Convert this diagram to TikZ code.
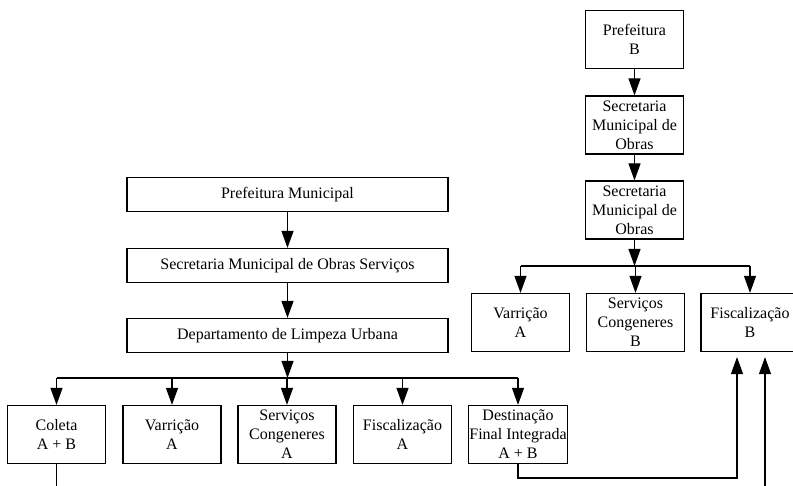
\documentclass[tikz,border=0pt]{standalone}
\usepackage{fontspec}
\setmainfont{Liberation Serif}
\usetikzlibrary{arrows.meta}

\begin{document}
\begin{tikzpicture}[x=1pt,y=-1pt,
		every node/.style={font=\fontsize{16}{19}\selectfont,align=center,inner sep=0.5pt},
		caixa/.style={draw,line width=1.2pt,minimum width=98pt,minimum height=58pt},
		caixalarga/.style={draw,line width=1.2pt,minimum width=321pt,minimum height=34pt},
		seta/.style={line width=1.1pt,-{Triangle[length=17pt,width=12pt]}},
		linha/.style={line width=1.1pt}]
		\useasboundingbox (0,0) rectangle (793,486);
		
		% esquerda
		\node[caixalarga] (pm) at (287.5,194.5) {Prefeitura Municipal};
		\node[caixalarga] (smo) at (287.5,265.5) {Secretaria Municipal de Obras Servi\c{c}os};
		\node[caixalarga] (dlu) at (287.5,335.5) {Departamento de Limpeza Urbana};
		\node[caixa] (coleta) at (56.5,434.5) {Coleta\\A + B};
		\node[caixa] (varr) at (172,434.5) {Varri\c{c}\~ao\\A};
		\node[caixa] (serv) at (287,434.5) {Servi\c{c}os\\Congeneres\\A};
		\node[caixa] (fisc) at (402.5,434.5) {Fiscaliza\c{c}\~ao\\A};
		\node[caixa] (dest) at (518,434.5) {Destina\c{c}\~ao\\Final Integrada\\A + B};
		\coordinate (barra) at (287.5,378);
		
		% direita
		\node[caixa] (pb) at (634.5,39.5) {Prefeitura\\B};
		\node[caixa] (sm1) at (634.5,125) {Secretaria\\Municipal de\\Obras};
		\node[caixa] (sm2) at (634.5,210) {Secretaria\\Municipal de\\Obras};
		\node[caixa] (varrd) at (520.5,322.5) {Varri\c{c}\~ao\\A};
		\node[caixa] (servd) at (635.5,322.5) {Servi\c{c}os\\Congeneres\\B};
		\node[caixa] (fiscd) at (750,322.5) {Fiscaliza\c{c}\~ao\\B};
		\coordinate (barrad) at (634.5,266);
		
		\coordinate (retorno) at (737,478);
		\coordinate (entrada) at (765,495);
		\coordinate (saida) at (56.5,495);
		
		\draw[seta] (pm) -- (smo);
		\draw[seta] (smo) -- (dlu);
		\draw[seta] (dlu) -- (barra);
		\draw[linha] (coleta |- barra) -- (dest |- barra);
		\foreach \n in {coleta,varr,serv,fisc,dest}
			\draw[seta] (\n |- barra) -- (\n);
		
		\draw[seta] (pb) -- (sm1);
		\draw[seta] (sm1) -- (sm2);
		\draw[seta] (sm2) -- (barrad);
		\draw[linha] (varrd |- barrad) -- (fiscd |- barrad);
		\foreach \n in {varrd,servd,fiscd}
			\draw[seta] (\n |- barrad) -- (\n);
		
		\draw[linha] (coleta) -- (saida);
		\draw[seta,shorten >=5pt] (dest) |- (retorno) -- (retorno |- fiscd.south);
		\draw[seta,shorten >=5pt] (entrada) -- (entrada |- fiscd.south);
	\end{tikzpicture}
\end{document}
